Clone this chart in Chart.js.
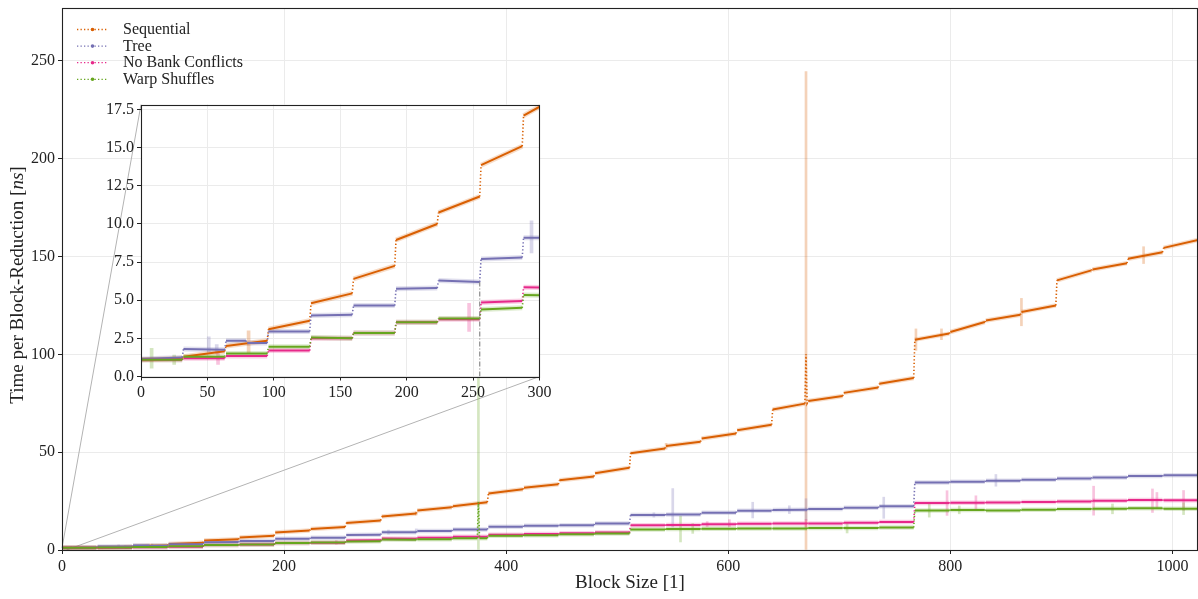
<!DOCTYPE html>
<html>
<head>
<meta charset="utf-8">
<title>Block reduction timing</title>
<script src="https://cdn.jsdelivr.net/npm/chart.js"></script>
<style>
  html, body { margin: 0; padding: 0; background: #fff; }
  #wrap { position: relative; width: 1198px; height: 599px; overflow: hidden; }
  #main { position: absolute; left: 0; top: 0; }
  #inset { position: absolute; left: 91px; top: 94px; }
</style>
</head>
<body>
<div id="wrap">
  <canvas id="main" width="1198" height="599"></canvas>
  <canvas id="inset" width="460" height="310"></canvas>
</div>
<script>
// Block sizes grouped by warp: segment k holds block sizes 32k .. 32k+31.
const segmentFirst = [0, 32, 64, 96, 128, 160, 192, 224, 256, 288, 320, 352, 384, 416, 448, 480,
                      512, 544, 576, 608, 640, 672, 704, 736, 768, 800, 832, 864, 896, 928, 960, 992];
const segmentSpan = 31;

// Mean time per block reduction [ns] at the first / last block size of each segment.
const seqStart  = [1.1, 1.3, 2.0, 3.1, 4.8, 6.4, 8.95, 10.75, 13.85, 17.1, 20.2, 22.4, 28.9, 31.8, 35.6, 39.2,
                   49.5, 53.2, 57.0, 61.2, 71.8, 76.2, 80.3, 85.0, 107.5, 111.4, 117.3, 121.6, 137.8, 143.4, 148.8, 154.4];
const seqEnd    = [1.2, 1.65, 2.35, 3.65, 5.45, 7.25, 10.0, 11.8, 15.1, 18.6, 21.8, 24.4, 31.0, 33.6, 37.6, 42.0,
                   51.9, 55.3, 59.5, 64.0, 75.0, 78.7, 83.0, 87.9, 110.6, 116.5, 120.2, 125.0, 142.9, 146.6, 152.2, 158.5];
const treeStart = [1.15, 1.8, 2.35, 2.95, 4.0, 4.65, 5.75, 6.3, 7.7, 9.1, 9.7, 10.5, 11.9, 12.4, 12.7, 13.6,
                   17.9, 18.2, 19.1, 20.1, 20.5, 20.9, 21.6, 22.4, 34.5, 34.9, 35.4, 35.9, 36.6, 37.1, 37.8, 38.2];
const treeEnd   = [1.25, 1.75, 2.2, 2.95, 4.05, 4.65, 5.8, 6.2, 7.8, 9.1, 9.7, 10.5, 11.9, 12.4, 12.7, 13.6,
                   17.9, 18.2, 19.1, 20.1, 20.6, 20.9, 21.6, 22.4, 34.5, 34.9, 35.4, 35.9, 36.6, 37.1, 37.8, 38.2];
const nbcStart  = [1.1, 1.2, 1.35, 1.7, 2.5, 2.85, 3.55, 3.75, 4.85, 5.85, 6.3, 6.8, 7.8, 8.2, 8.5, 8.9,
                   12.6, 12.8, 13.1, 13.4, 13.5, 13.6, 13.9, 14.3, 24.0, 24.2, 24.3, 24.5, 24.8, 25.2, 25.5, 25.4];
const nbcEnd    = [1.1, 1.2, 1.35, 1.7, 2.5, 2.85, 3.55, 3.75, 4.95, 5.8, 6.3, 6.8, 7.8, 8.2, 8.5, 8.9,
                   12.6, 12.8, 13.1, 13.4, 13.6, 13.6, 13.9, 14.3, 24.0, 24.2, 24.3, 24.5, 24.8, 25.2, 25.5, 25.4];
const warpStart = [1.1, 1.3, 1.5, 1.95, 2.55, 2.85, 3.55, 3.8, 4.4, 5.35, 5.5, 6.0, 7.3, 7.6, 8.0, 8.4,
                   10.5, 10.7, 10.9, 11.0, 11.0, 11.2, 11.3, 11.5, 20.2, 20.4, 20.2, 20.6, 20.9, 21.1, 21.3, 21.1];
const warpEnd   = [1.1, 1.3, 1.5, 1.95, 2.5, 2.85, 3.55, 3.8, 4.5, 5.3, 5.5, 6.0, 7.3, 7.6, 8.0, 8.4,
                   10.5, 10.7, 10.9, 11.0, 11.0, 11.2, 11.3, 11.5, 20.2, 20.4, 20.2, 20.6, 20.9, 21.1, 21.3, 21.1];

// Individual measurements that break out of their segment: [block size, mean ns].
const seqExtra  = [[669, 74.8], [670, 100.0]];
const treeExtra = [[79, 2.35], [80, 2.2]];
const nbcExtra  = [];
const warpExtra = [[374, 6.0], [375, 24.6], [376, 6.0]];

// Spread of noisy measurements: [block size, low ns, high ns].
const seqSpread  = [[81, 1.5, 3.0], [319, 17.9, 19.5], [544, 51.5, 54.5], [670, 0, 244.5], [769, 102, 113],
                    [792, 107.5, 113], [864, 114.6, 128.6], [974, 146.4, 155]];
const treeSpread = [[51, 1.6, 2.6], [57, 1.5, 2.1], [294, 8.1, 10.2], [319, 8.8, 10.8], [533, 16.8, 19.0],
                    [550, 11.8, 31.4], [622, 16.4, 24.4], [655, 18.6, 22.6], [670, 15.2, 26.2],
                    [740, 16.2, 27.0], [841, 32.6, 38.6]];
const nbcSpread  = [[58, 0.8, 1.6], [247, 2.95, 4.8], [581, 12.0, 14.5], [601, 12.0, 15.5], [670, 11.6, 15.6],
                    [797, 17.7, 30.3], [823, 20.7, 27.7], [929, 17.8, 32.6], [982, 19.2, 31.2],
                    [986, 21.4, 29.4], [1010, 20.4, 30.4]];
const warpSpread = [[8, 0.55, 1.85], [25, 0.8, 1.4], [375, 0, 138], [557, 4.1, 17.3], [568, 8.5, 13.5],
                    [707, 8.7, 13.7], [781, 16.8, 23.8], [808, 18.5, 22.5], [946, 18.5, 23.5], [1010, 18.1, 24.1]];

const seriesNames = ['Sequential', 'Tree', 'No Bank Conflicts', 'Warp Shuffles'];
const seriesColors = ['#d95f02', '#7570b3', '#e7298a', '#66a61e'];

// Axis ticks
const mainXTicks = [0, 200, 400, 600, 800, 1000];
const mainYTicks = [0, 50, 100, 150, 200, 250];
const insetXTicks = [0, 50, 100, 150, 200, 250, 300];
const insetYTicks = [0, 2.5, 5, 7.5, 10, 12.5, 15, 17.5];

// Dash-dot guide inside the zoomed view: [block size, ns] end points.
const insetGuide = [[255, 0], [255, 6.2]];

const xTitle = 'Block Size [1]';
const yTitleParts = [['Time per Block-Reduction [', false], ['ns', true], [']', false]];

const SERIF = "'Liberation Serif', 'DejaVu Serif', serif";
const TEXT = '#222';

const series = [
  { start: seqStart,  end: seqEnd,  extra: seqExtra,  spread: seqSpread },
  { start: treeStart, end: treeEnd, extra: treeExtra, spread: treeSpread },
  { start: nbcStart,  end: nbcEnd,  extra: nbcExtra,  spread: nbcSpread },
  { start: warpStart, end: warpEnd, extra: warpExtra, spread: warpSpread }
].map((s, i) => Object.assign(s, { name: seriesNames[i], color: seriesColors[i] }));

function rgba(hex, a) {
  const n = parseInt(hex.slice(1), 16);
  return `rgba(${(n >> 16) & 255},${(n >> 8) & 255},${n & 255},${a})`;
}

function seriesPoints(s) {
  const pts = [];
  segmentFirst.forEach((x, k) => {
    pts.push({ x: x, y: s.start[k] });
    pts.push({ x: x + segmentSpan, y: s.end[k] });
  });
  s.extra.forEach(([x, y]) => pts.push({ x, y }));
  pts.sort((a, b) => a.x - b.x);
  return pts;
}

const isJump = c => c.p1.parsed.x - c.p0.parsed.x <= 1;

function buildDatasets(o) {
  const ds = [];
  series.forEach((s, i) => {
    const pts = seriesPoints(s);
    ds.push({
      type: 'line', label: s.name, data: pts, borderColor: s.color,
      borderWidth: o.lineWidth, pointRadius: 0, tension: 0, order: 3 - i,
      segment: {
        borderDash: c => isJump(c) ? [1.3, 2.2] : undefined,
        borderWidth: c => isJump(c) ? 1.6 : undefined
      }
    });
    ds.push({
      type: 'line', label: '', data: pts, borderColor: rgba(s.color, 0.22),
      borderWidth: o.haloWidth, pointRadius: 0, tension: 0, order: 13 - i,
      segment: { borderColor: c => isJump(c) ? 'rgba(0,0,0,0)' : undefined }
    });
    ds.push({
      type: 'bar', label: '', data: s.spread.map(([x, lo, hi]) => ({ x, y: [lo, hi] })),
      backgroundColor: rgba(s.color, 0.28), borderWidth: 0,
      barThickness: o.spreadWidth, grouped: false, order: 23 - i
    });
  });
  return ds;
}

function fixedTicks(list) {
  return function (scale) { scale.ticks = list.map(v => ({ value: v })); };
}

function axisOptions(min, max, ticks, fmt, fitSize, isX) {
  return {
    type: 'linear', min, max, offset: false,
    afterBuildTicks: fixedTicks(ticks),
    afterFit: s => {
      if (isX) s.height = fitSize; else s.width = fitSize;
      s.paddingLeft = 0; s.paddingRight = 0; s.paddingTop = 0; s.paddingBottom = 0;
    },
    grid: { offset: false, color: '#ebebeb', lineWidth: 1, drawTicks: true, tickLength: 4, tickColor: TEXT, tickWidth: 1 },
    border: { display: false },
    ticks: { color: TEXT, font: { family: SERIF, size: 16 }, padding: 3, maxRotation: 0, autoSkip: false,
             callback: v => fmt(v) }
  };
}

// Opaque plot background and black frame for the zoomed view.
const frame = {
  id: 'frame',
  beforeDraw(chart, args, opts) {
    if (!opts.fill) return;
    const a = chart.chartArea, ctx = chart.ctx;
    ctx.save(); ctx.fillStyle = '#fff';
    ctx.fillRect(a.left, a.top, a.right - a.left, a.bottom - a.top);
    ctx.restore();
  },
  afterDraw(chart) {
    const a = chart.chartArea, ctx = chart.ctx;
    ctx.save(); ctx.strokeStyle = TEXT; ctx.lineWidth = 1.1;
    ctx.strokeRect(Math.round(a.left) + 0.5, Math.round(a.top) + 0.5,
                   Math.round(a.right - a.left) - 1, Math.round(a.bottom - a.top));
    ctx.restore();
  }
};

// ---- zoomed view (first 300 block sizes) ----
const insetDatasets = buildDatasets({ lineWidth: 2, haloWidth: 5, spreadWidth: 3 });
insetDatasets.push({
  type: 'line', label: '', data: insetGuide.map(([x, y]) => ({ x, y })),
  borderColor: '#8a8a8a', borderWidth: 1.2, borderDash: [5, 2, 1, 2], pointRadius: 0, order: -1
});

const insetChart = new Chart(document.getElementById('inset'), {
  type: 'line',
  data: { datasets: insetDatasets },
  options: {
    responsive: false, animation: false, events: [], devicePixelRatio: 1,
    layout: { padding: { top: 10.5, right: 11.5, left: 0, bottom: 0 } },
    plugins: { legend: { display: false }, tooltip: { enabled: false }, frame: { fill: true } },
    scales: {
      x: axisOptions(0, 300, insetXTicks, v => String(v), 27.5, true),
      y: axisOptions(0, 17.83, insetYTicks, v => v.toFixed(1), 50, false)
    }
  },
  plugins: [frame]
});

// Legend, axis titles and the lines tying the zoomed view to its origin.
const decorations = {
  id: 'decorations',
  beforeDatasetsDraw(chart) {
    const ctx = chart.ctx, xs = chart.scales.x, ys = chart.scales.y;
    const ia = insetChart.chartArea;
    const box = document.getElementById('inset');
    const ox = box.offsetLeft, oy = box.offsetTop;
    ctx.save();
    ctx.strokeStyle = '#b3b3b3'; ctx.lineWidth = 1;
    ctx.beginPath();
    ctx.moveTo(xs.getPixelForValue(0), ys.getPixelForValue(1));
    ctx.lineTo(ox + ia.left, oy + ia.top);
    ctx.moveTo(xs.getPixelForValue(4), ys.getPixelForValue(0));
    ctx.lineTo(ox + ia.right, oy + ia.bottom);
    ctx.stroke();
    ctx.restore();
  },
  afterDraw(chart) {
    const ctx = chart.ctx, a = chart.chartArea;
    ctx.save();
    // legend
    ctx.font = `16px ${SERIF}`;
    ctx.textBaseline = 'middle'; ctx.textAlign = 'left';
    series.forEach((s, i) => {
      const y = a.top + 21.5 + i * 16.6;
      const x0 = a.left + 15, x1 = a.left + 46;
      ctx.strokeStyle = s.color; ctx.lineWidth = 1.3; ctx.setLineDash([1.3, 2.2]);
      ctx.beginPath(); ctx.moveTo(x0, y); ctx.lineTo(x1, y); ctx.stroke();
      ctx.setLineDash([]);
      ctx.fillStyle = s.color;
      ctx.beginPath(); ctx.arc((x0 + x1) / 2, y, 1.8, 0, Math.PI * 2); ctx.fill();
      ctx.fillStyle = TEXT;
      ctx.fillText(s.name, a.left + 61, y + 0.5);
    });
    // x title
    ctx.font = `19px ${SERIF}`;
    ctx.textAlign = 'center';
    ctx.fillText(xTitle, (a.left + a.right) / 2, a.bottom + 33);
    // y title with italic unit
    const fonts = yTitleParts.map(([, it]) => `${it ? 'italic ' : ''}19px ${SERIF}`);
    const widths = yTitleParts.map(([t], i) => { ctx.font = fonts[i]; return ctx.measureText(t).width; });
    const total = widths.reduce((p, w) => p + w, 0);
    ctx.translate(18, (a.top + a.bottom) / 2 + 6);
    ctx.rotate(-Math.PI / 2);
    ctx.textAlign = 'left';
    let x = -total / 2;
    yTitleParts.forEach(([t], i) => { ctx.font = fonts[i]; ctx.fillText(t, x, 0); x += widths[i]; });
    ctx.restore();
  }
};

// ---- full range ----
new Chart(document.getElementById('main'), {
  type: 'line',
  data: { datasets: buildDatasets({ lineWidth: 2, haloWidth: 4.5, spreadWidth: 2 }) },
  options: {
    responsive: false, animation: false, events: [], devicePixelRatio: 1,
    layout: { padding: { top: 8, right: 0, left: 0, bottom: 0 } },
    plugins: { legend: { display: false }, tooltip: { enabled: false }, frame: { fill: false } },
    scales: {
      x: axisOptions(0, 1023, mainXTicks, v => String(v), 49, true),
      y: axisOptions(0, 277, mainYTicks, v => String(v), 62, false)
    }
  },
  plugins: [frame, decorations]
});
</script>
</body>
</html>
